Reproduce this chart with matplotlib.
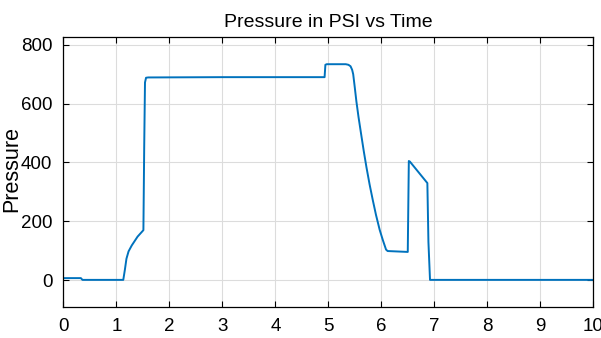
import matplotlib.pyplot as plt

plt.rcParams['font.family'] = ['Liberation Sans', 'DejaVu Sans']

# pressure trace
time_s = [0, 0.33, 0.36, 1.13, 1.16, 1.19, 1.23, 1.29, 1.4, 1.51, 1.525, 1.54, 1.56, 1.6, 3.0, 4.93,
          4.945, 4.97, 5.33, 5.38, 5.42, 5.45, 5.47, 5.50, 5.53, 5.57, 5.62, 5.67, 5.72, 5.78, 5.84,
          5.90, 5.97, 6.03, 6.09, 6.12, 6.50, 6.52, 6.54, 6.87, 6.89, 6.92, 10]
pressure = [7, 7, 1, 1, 35, 73, 98, 118, 148, 170, 450, 672, 688, 689, 690, 690,
            732, 734, 734, 732, 727, 715, 700, 655, 608, 555, 496, 438, 384, 325, 272,
            222, 171, 136, 104, 99, 96, 405, 403, 330, 130, 1, 1]

fig, ax = plt.subplots(figsize=(6.01, 3.38), dpi=100)
fig.subplots_adjust(left=0.1055, right=0.987, top=0.891, bottom=0.091)

ax.plot(time_s, pressure, color='#0072BD', linewidth=1.4)

ax.set_xlim(0, 10)
ax.set_ylim(-92, 827)
ax.set_xticks(range(0, 11))
ax.set_yticks([0, 200, 400, 600, 800])
ax.grid(True, color='#dcdcdc', linewidth=0.8)
ax.set_axisbelow(True)
ax.tick_params(direction='in', top=True, right=True, length=4, labelsize=13.5, pad=8)
for s in ax.spines.values():
    s.set_linewidth(0.9)

ax.set_title('Pressure in PSI vs Time', fontsize=14, pad=7)
ax.set_ylabel('Pressure', fontsize=15.5)
ax.yaxis.set_label_coords(-0.078, 0.51)

fig.savefig('out.png')
